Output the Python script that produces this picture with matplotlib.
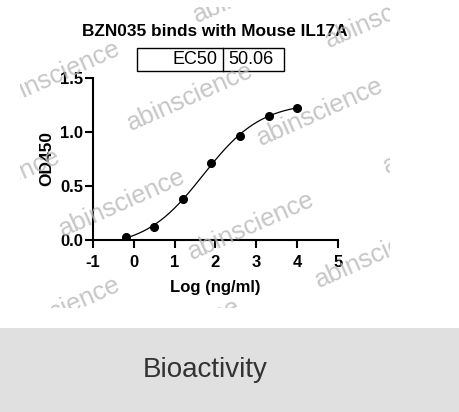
import numpy as np
import matplotlib
matplotlib.use("Agg")
import matplotlib.pyplot as plt
from matplotlib.patches import Rectangle

plt.rcParams['font.family'] = ['Liberation Sans', 'DejaVu Sans']

title = "BZN035 binds with Mouse IL17A"
ec50 = 50.06
logc = [-0.2, 0.5, 1.2, 1.9, 2.6, 3.3, 4.0]
od450 = [0.025, 0.12, 0.38, 0.71, 0.96, 1.15, 1.225]
xticks = [-1, 0, 1, 2, 3, 4, 5]
yticks = [0.0, 0.5, 1.0, 1.5]

W, H = 460, 412
fig = plt.figure(figsize=(W/100, H/100), dpi=100)

# 4PL fit with logEC50 fixed (grid search, no scipy)
x = np.array(logc); y = np.array(od450)
lec = np.log10(ec50)
best = None
for top in np.linspace(1.1, 1.5, 81):
	for bot in np.linspace(-0.1, 0.05, 31):
		for h in np.linspace(0.4, 1.2, 81):
			f = bot + (top-bot)/(1+10**((lec-x)*h))
			e = np.sum((f-y)**2)
			if best is None or e < best[0]:
				best = (e, top, bot, h)
_, top, bot, h = best
xs = np.linspace(x[0], x[-1], 200)
ys = bot + (top-bot)/(1+10**((lec-xs)*h))

ax = fig.add_axes([93/W, 1-240/H, 245/W, 162/H])
ax.plot(xs, ys, "-k", lw=0.9)
ax.plot(x, y, "o", color="k", ms=5.5)
ax.set_xlim(-1, 5)
ax.set_ylim(0, 1.5)
ax.set_xticks(xticks)
ax.set_xticklabels([str(t) for t in xticks])
ax.set_yticks(yticks)
ax.set_yticklabels(["%.1f" % t for t in yticks])
for s in ["top", "right"]:
	ax.spines[s].set_visible(False)
for s in ["left", "bottom"]:
	ax.spines[s].set_linewidth(1.5)
ax.tick_params(width=1.5, length=6, labelsize=12)
ax.tick_params(axis="x", pad=5)
ax.tick_params(axis="y", pad=1)
for lb in ax.get_xticklabels()+ax.get_yticklabels():
	lb.set_fontweight("bold")
ax.set_xlabel("Log (ng/ml)", fontsize=12, fontweight="bold", labelpad=7)
ax.set_ylabel("OD450", fontsize=12.5, fontweight="bold", labelpad=4)
ax.patch.set_alpha(0)

fig.text(215/W, 1-31/H, title, ha="center", va="center", fontsize=12.4, fontweight="bold")

# EC50 table
fig.patches.append(Rectangle((137/W, 1-71/H), 147/W, 23/H, transform=fig.transFigure,
	fill=False, edgecolor="k", lw=1.0))
fig.lines.append(plt.Line2D([223/W, 223/W], [1-71/H, 1-48/H], transform=fig.transFigure, color="k", lw=1.0))
fig.text(218/W, 1-60/H, "EC50", ha="right", va="center", fontsize=13)
fig.text(228/W, 1-60/H, "%.2f" % ec50, ha="left", va="center", fontsize=13)

# bottom band
band = fig.add_axes([0, 0, 1, 84/H])
band.set_facecolor("#dfe0df")
band.set_xticks([]); band.set_yticks([])
for s in band.spines.values():
	s.set_visible(False)
band.text(0.445, 0.5, "Bioactivity", ha="center", va="center", fontsize=20, color="#333333",
	transform=band.transAxes)

# watermarks
wm = fig.add_axes([20/W, 1-308/H, 370/W, 301/H], zorder=5)
wm.set_xlim(20, 390); wm.set_ylim(308, 7)
wm.axis("off")
wm.patch.set_alpha(0)
spots = [(190, 97), (320, 112), (251, 226), (122, 203), (57, 75), (-3, 183),
	(57, 311), (177, 333), (378, 254), (446, 140), (388, 14), (256, -11)]
for px, py in spots:
	wm.text(px, py, "abinscience", ha="center", va="center", rotation=24, rotation_mode="anchor",
		fontsize=18.5, color="#b8b8b8", alpha=0.8, clip_on=True)

fig.savefig("out.png", dpi=100)
